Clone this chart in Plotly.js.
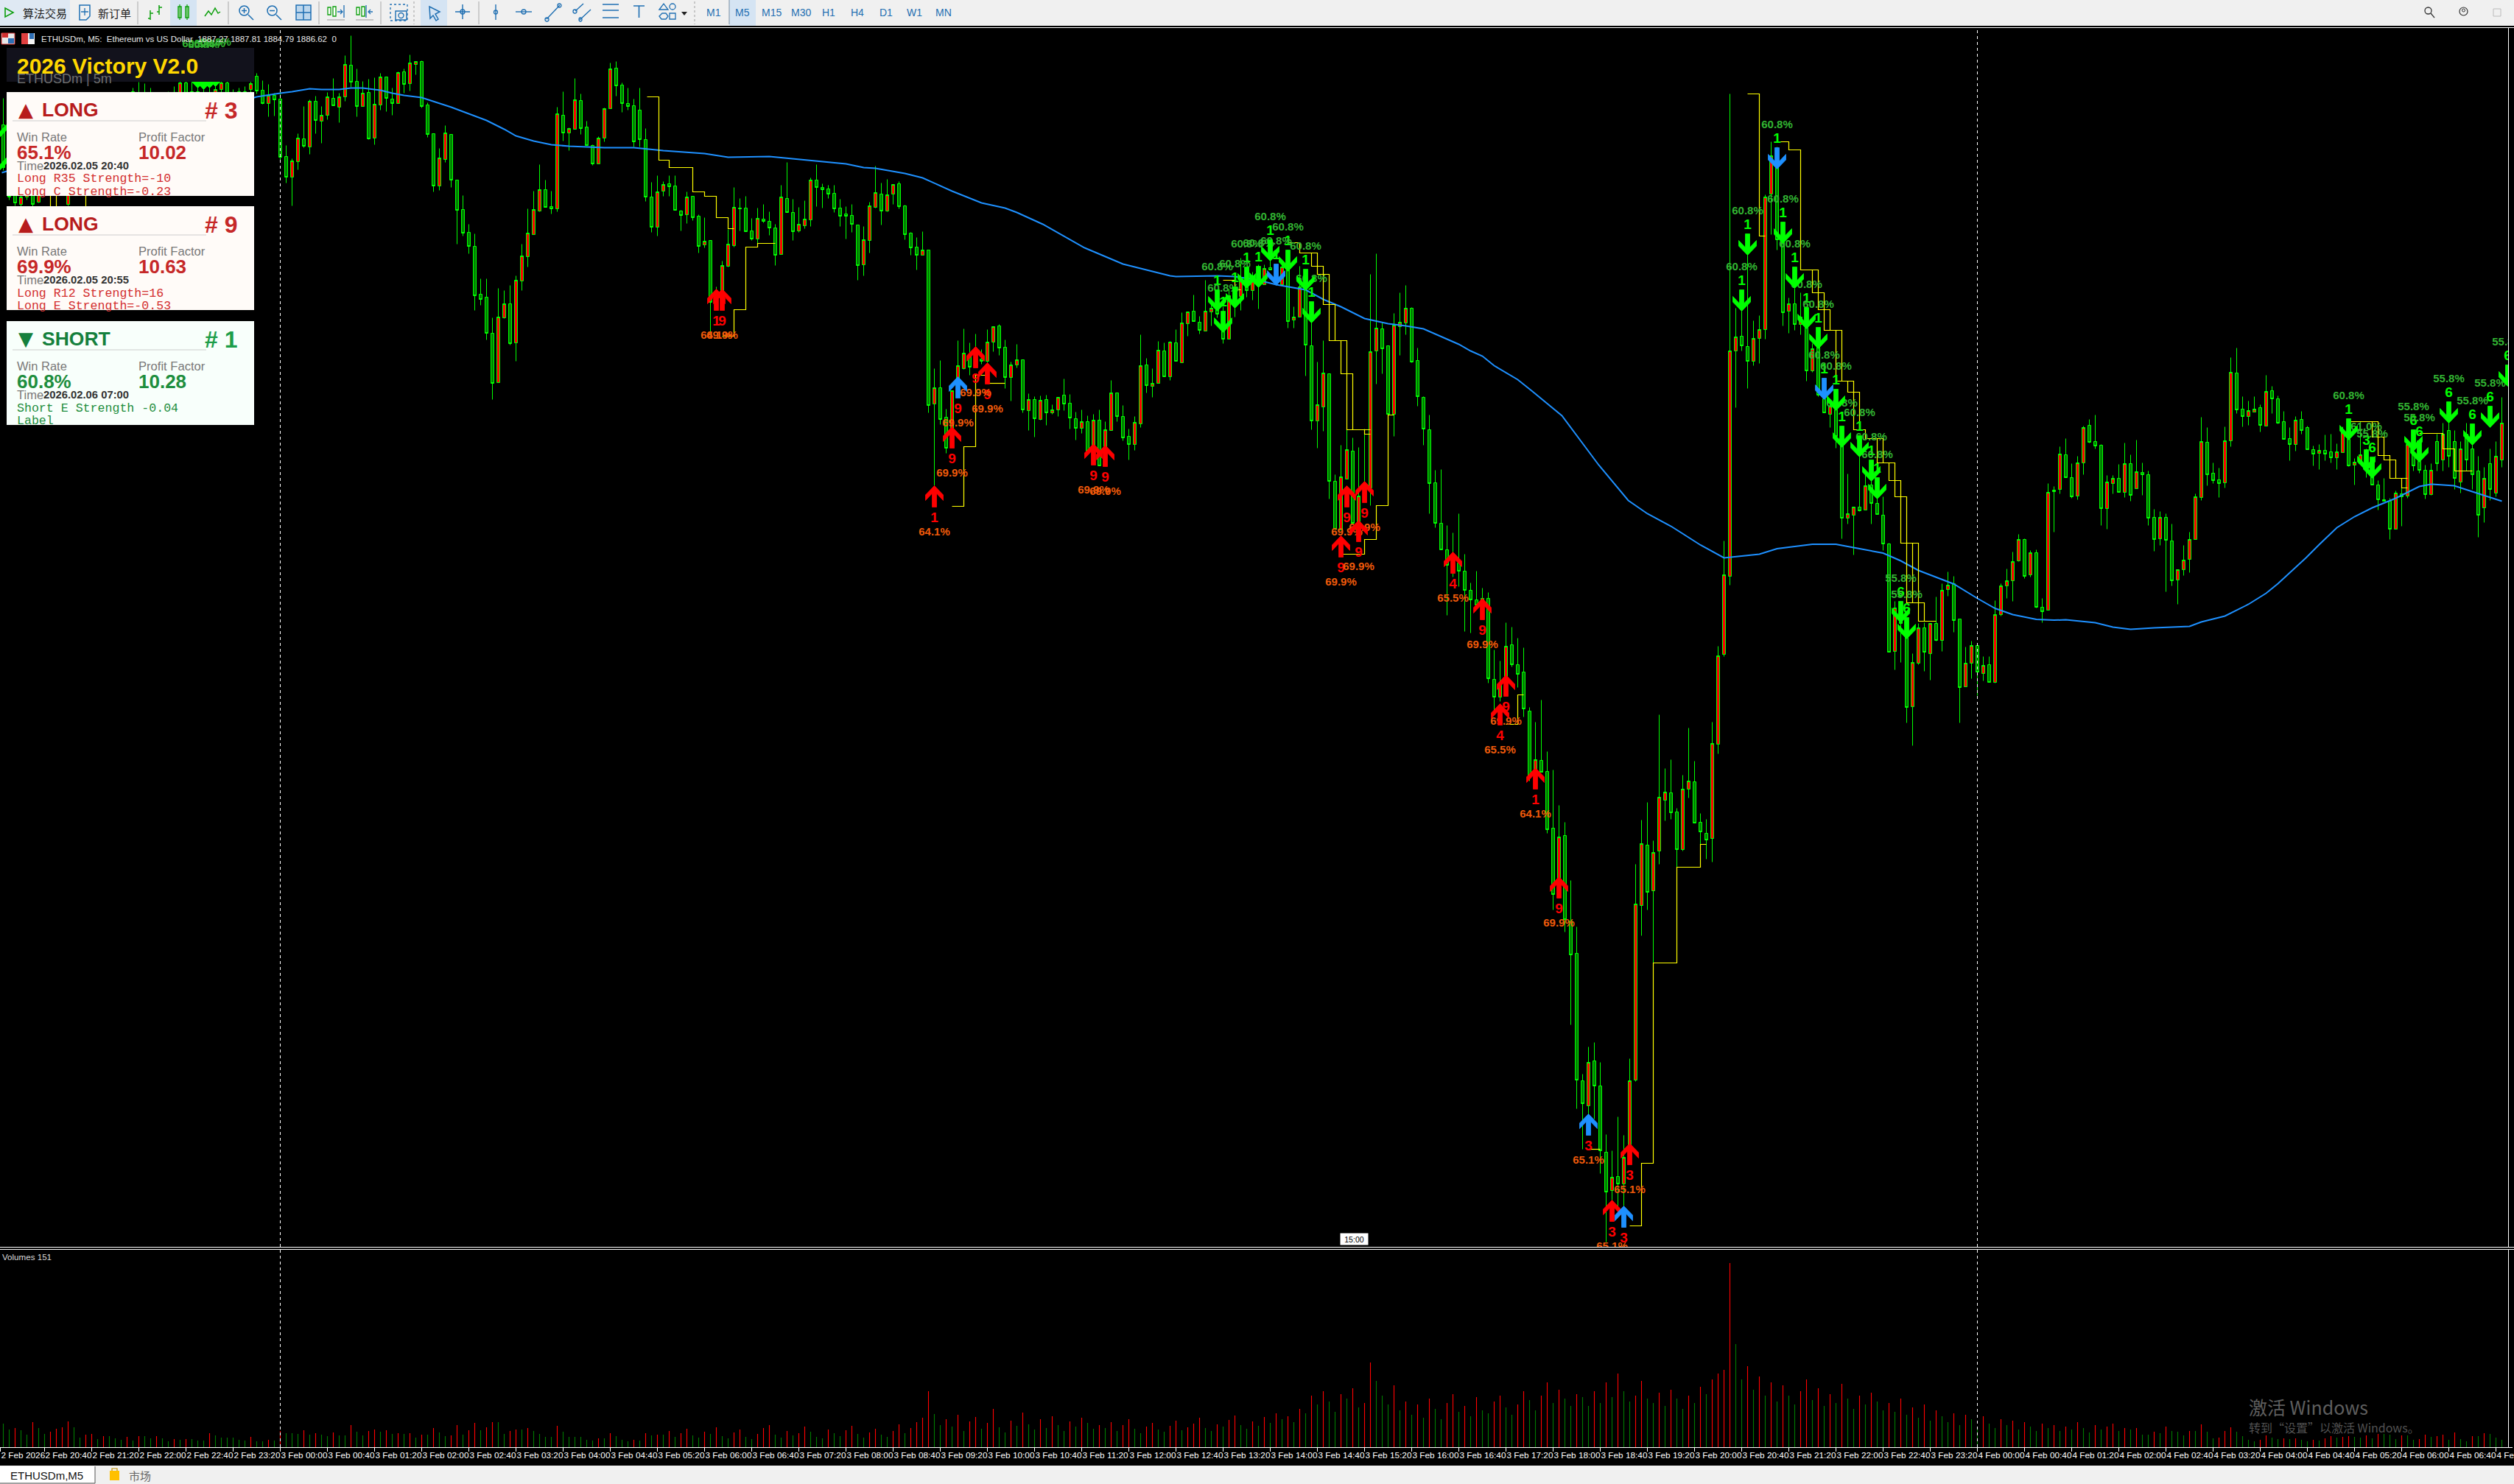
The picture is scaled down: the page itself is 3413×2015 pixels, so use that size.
<!DOCTYPE html>
<html><head><meta charset="utf-8">
<script src="https://cdn.plot.ly/plotly-3.0.1.min.js"></script>
<style>html,body{margin:0;padding:0;background:#000;overflow:hidden}#c{width:3413px;height:2015px}</style>
</head><body><div id="c"></div>
<script>
// Candles: [open, high, low, close]. The price scale is hidden in the source, so prices are in chart points.
const barsFeb2Evening=[[1830,1866,1768,1772],[1770,1778,1728,1732],[1760,1765,1720,1724],[1722,1745,1718,1732],[1732,1770,1728,1760],[1760,1768,1719,1722],[1725,1785,1724,1775],[1775,1785,1738,1745],[1742,1800,1725,1785],[1780,1815,1776,1805],[1805,1810,1750,1760],[1722,1800,1720,1785],[1785,1820,1780,1810],[1810,1820,1765,1770],[1770,1810,1765,1800],[1800,1840,1795,1830],[1830,1838,1790,1795],[1795,1805,1755,1760],[1760,1800,1752,1795],[1795,1835,1790,1825],[1825,1865,1820,1855],[1855,1870,1825,1830],[1830,1880,1825,1875],[1874,1888,1845,1850],[1850,1886,1840,1870],[1870,1880,1830,1835],[1835,1845,1805,1810],[1810,1860,1805,1850],[1850,1875,1845,1870],[1870,1882,1835,1840],[1840,1892,1836,1887],[1887,1895,1845,1850],[1850,1888,1845,1875],[1875,1885,1835,1840],[1840,1878,1836,1872],[1872,1880,1845,1850],[1850,1885,1846,1878],[1878,1890,1874,1887],[1887,1892,1865,1870],[1870,1878,1855,1860],[1860,1880,1856,1875],[1875,1882,1860,1865],[1878,1892,1870,1886],[1896,1900,1872,1876],[1877,1890,1858,1859],[1859,1885,1841,1870],[1870,1873,1842,1864]];
const barsFeb3Night=[[1865,1875,1780,1786],[1787,1802,1751,1759],[1759,1784,1720,1781],[1780,1818,1769,1812],[1811,1855,1799,1801],[1800,1864,1790,1862],[1862,1869,1818,1836],[1835,1855,1805,1843],[1843,1874,1837,1868],[1866,1893,1856,1856],[1854,1873,1833,1868],[1868,1924,1862,1912],[1911,1951,1881,1888],[1889,1906,1841,1855],[1855,1889,1855,1873],[1874,1892,1810,1811],[1812,1894,1803,1858],[1857,1900,1850,1895],[1895,1895,1848,1866],[1865,1880,1843,1859],[1859,1902,1859,1901],[1902,1906,1873,1885],[1886,1925,1876,1914],[1912,1916,1898,1916],[1916,1917,1853,1855],[1857,1860,1813,1817],[1818,1818,1739,1747],[1747,1798,1741,1785],[1783,1829,1779,1819],[1817,1817,1745,1755],[1755,1755,1668,1714],[1715,1734,1679,1683],[1684,1695,1655,1665],[1665,1682,1578,1598],[1600,1621,1585,1593],[1596,1621,1538,1547],[1547,1568,1457,1479],[1480,1608,1480,1569],[1568,1605,1567,1587],[1587,1612,1531,1533],[1534,1625,1509,1619],[1618,1668,1605,1652],[1651,1716,1637,1683],[1681,1740,1681,1715],[1713,1776,1712,1742],[1742,1755,1718,1718],[1719,1740,1709,1716],[1716,1854,1712,1845],[1843,1875,1808,1819],[1819,1826,1795,1825],[1824,1893,1824,1864],[1863,1872,1817,1825],[1827,1835,1802,1802],[1802,1803,1775,1777],[1777,1814,1777,1812],[1812,1853,1807,1852],[1852,1914,1852,1906],[1907,1916,1869,1883],[1884,1887,1847,1859],[1859,1880,1850,1855],[1856,1865,1800,1807],[1850,1880,1800,1810],[1810,1825,1726,1732]];
const barsFeb3Morning=[[1732,1752,1684,1691],[1691,1761,1679,1739],[1740,1753,1733,1749],[1750,1761,1733,1746],[1747,1761,1714,1714],[1713,1714,1686,1707],[1708,1739,1696,1732],[1733,1733,1700,1704],[1706,1708,1656,1665],[1667,1704,1663,1672],[1673,1673,1543,1589],[1600,1610,1580,1590],[1587,1645,1587,1639],[1638,1688,1637,1668],[1666,1745,1664,1718],[1717,1730,1686,1716],[1717,1733,1685,1685],[1686,1703,1673,1675],[1675,1717,1667,1703],[1702,1722,1697,1699],[1699,1712,1680,1690],[1690,1695,1639,1653],[1654,1748,1654,1732],[1730,1779,1711,1711],[1711,1729,1673,1685],[1686,1718,1684,1695],[1693,1727,1689,1702],[1701,1758,1692,1755],[1755,1776,1719,1745],[1745,1750,1717,1742],[1743,1748,1730,1736],[1737,1748,1711,1716],[1717,1729,1692,1706],[1709,1719,1675,1706],[1707,1722,1684,1695],[1694,1694,1619,1639],[1640,1692,1625,1674],[1673,1725,1656,1720],[1718,1774,1717,1738],[1736,1751,1694,1713],[1713,1756,1712,1735],[1736,1749,1722,1749],[1750,1753,1716,1719],[1720,1721,1674,1681],[1683,1684,1653,1663],[1664,1677,1633,1653],[1653,1685,1653,1660],[1660,1660,1439,1449],[1451,1499,1340,1473],[1473,1510,1423,1430],[1433,1444,1384,1391],[1417,1469,1417,1469],[1480,1537,1480,1503],[1499,1553,1498,1520],[1517,1534,1490,1501],[1510,1546,1507,1523],[1512,1525,1505,1509],[1509,1552,1507,1535],[1535,1556,1522,1556],[1557,1559,1517,1527],[1528,1538,1472,1487],[1487,1508,1455,1504],[1504,1532,1500,1511],[1511,1511,1439,1443]];
const barsFeb3Noon=[[1442,1465,1415,1457],[1457,1461,1406,1431],[1430,1462,1429,1456],[1457,1463,1422,1439],[1439,1450,1437,1443],[1443,1460,1434,1460],[1463,1485,1442,1451],[1452,1464,1417,1432],[1431,1440,1402,1418],[1418,1443,1411,1427],[1427,1435,1387,1387],[1393,1437,1373,1429],[1429,1443,1367,1367],[1387,1427,1380,1416],[1415,1483,1415,1466],[1466,1466,1427,1434],[1434,1449,1401,1405],[1407,1417,1375,1396],[1396,1434,1388,1426],[1424,1545,1419,1503],[1504,1513,1466,1476],[1475,1499,1460,1479],[1479,1536,1479,1524],[1523,1534,1488,1488],[1488,1536,1483,1535],[1534,1552,1509,1509],[1507,1575,1507,1561],[1560,1576,1543,1576],[1577,1599,1563,1563],[1562,1570,1546,1551],[1550,1619,1550,1577],[1576,1587,1557,1581],[1580,1601,1568,1573],[1550,1583,1533,1539],[1539,1607,1539,1598],[1600,1615,1569,1593],[1597,1649,1578,1620],[1623,1630,1596,1605],[1605,1630,1592,1625],[1630,1640,1580,1613],[1613,1640,1613,1635],[1636,1647,1633,1633],[1635,1640,1620,1623],[1613,1640,1613,1637],[1643,1660,1554,1563],[1565,1583,1554,1569],[1569,1638,1569,1610],[1607,1633,1489,1531],[1530,1573,1416,1428],[1428,1508,1391,1450],[1447,1537,1414,1493],[1492,1492,1322,1346],[1346,1355,1280,1281],[1280,1395,1280,1352],[1349,1416,1349,1389],[1387,1405,1289,1289],[1290,1392,1290,1326],[1342,1417,1323,1323],[1337,1627,1313,1522],[1523,1655,1478,1554],[1553,1561,1492,1526],[1530,1530,1437,1437],[1437,1574,1407,1558],[1556,1602,1517,1562],[1561,1612,1545,1581]];
const barsFeb3Slide=[[1581,1582,1507,1508],[1510,1527,1448,1461],[1460,1461,1395,1417],[1416,1436,1302,1343],[1344,1361,1283,1289],[1289,1362,1253,1253],[1253,1286,1164,1232],[1222,1276,1216,1242],[1235,1302,1203,1224],[1224,1247,1142,1198],[1198,1208,1140,1185],[1185,1224,1178,1178],[1180,1201,1170,1187],[1187,1195,1072,1078],[1077,1117,1032,1053],[1053,1102,1047,1070],[1066,1154,1066,1122],[1124,1148,1094,1097],[1097,1133,1066,1084],[1087,1120,1026,1037],[1034,1039,939,946],[936,1019,936,968],[967,1049,951,951],[952,979,868,873],[875,954,764,785],[806,906,806,863],[865,883,734,751],[749,804,608,703],[705,741,494,533],[532,541,439,501],[498,578,480,557],[559,584,480,525],[525,557,406,437],[435,459,313,381],[383,437,367,401],[402,483,360,392],[392,458,362,428],[437,562,437,532]];
const barsFeb3Rally=[[533,826,531,772],[770,886,729,854],[852,910,764,788],[790,858,692,842],[844,1029,826,917],[913,956,885,924],[923,968,887,896],[897,902,822,846],[846,947,844,928],[928,1011,916,939],[938,966,882,882],[883,895,853,870],[868,887,833,859],[861,1019,829,990],[989,1122,976,1109],[1111,1265,1108,1219],[1217,1872,1205,1523],[1523,1581,1446,1542],[1543,1590,1523,1530],[1529,1668,1472,1509],[1509,1564,1503,1540],[1540,1571,1506,1552],[1552,1735,1539,1732],[1736,1807,1681,1788],[1776,1800,1660,1674],[1680,1698,1557,1575],[1577,1595,1547,1587],[1587,1608,1551,1559],[1559,1602,1545,1569],[1566,1578,1482,1496],[1496,1533,1494,1526],[1530,1536,1461,1463],[1458,1485,1439,1439],[1437,1458,1419,1448],[1443,1458,1391,1407],[1404,1416,1268,1296],[1296,1356,1288,1302],[1300,1311,1246,1311],[1311,1386,1305,1306],[1307,1362,1307,1340],[1341,1362,1288,1316],[1316,1323,1301,1301],[1300,1325,1252,1261],[1261,1262,1114,1114],[1115,1183,1090,1174],[1168,1183,1100,1153],[1144,1153,1018,1039],[1040,1112,987,1100],[1099,1153,1097,1147],[1147,1154,1088,1114],[1112,1153,1076,1153],[1153,1189,1129,1130],[1130,1207,1115,1198],[1199,1223,1190,1205],[1207,1217,1141,1157],[1159,1159,1018,1066],[1067,1121,1067,1099],[1099,1129,1078,1123]];
const barsFeb4Night=[[1123,1123,1055,1087],[1085,1108,1075,1096],[1097,1108,1073,1073],[1073,1184,1072,1165],[1165,1207,1163,1204],[1204,1227,1187,1211],[1211,1250,1183,1237],[1238,1274,1237,1267],[1267,1268,1214,1217],[1219,1252,1216,1249],[1249,1253,1174,1175],[1175,1187,1154,1169],[1171,1343,1171,1331],[1332,1339,1277,1334],[1335,1393,1329,1383],[1382,1404,1351,1351],[1351,1370,1323,1325],[1326,1380,1321,1371],[1371,1421,1355,1419],[1422,1430,1398,1399],[1400,1436,1390,1394],[1395,1396,1286,1309],[1309,1354,1281,1345],[1343,1354,1329,1350],[1350,1369,1331,1331],[1331,1398,1324,1370],[1370,1382,1319,1327],[1336,1402,1336,1359],[1358,1371,1327,1355],[1355,1360,1286,1296],[1297,1308,1251,1267],[1268,1305,1259,1297],[1297,1302,1196,1266],[1265,1288,1204,1211],[1212,1226,1179,1226],[1226,1259,1218,1239],[1240,1277,1222,1267],[1267,1329,1267,1325],[1324,1433,1320,1400],[1399,1419,1340,1355],[1357,1371,1343,1347],[1348,1364,1324,1343],[1344,1420,1337,1401],[1401,1514,1393,1494],[1493,1527,1438,1443]];
const barsFeb4Morning=[[1444,1461,1420,1434],[1434,1455,1422,1442],[1440,1461,1440,1444],[1446,1450,1413,1422],[1421,1490,1421,1468],[1469,1475,1438,1458],[1458,1462,1424,1425],[1427,1441,1403,1403],[1404,1419,1374,1396],[1396,1434,1387,1429],[1430,1441,1410,1415],[1419,1421,1389,1389],[1389,1394,1367,1383],[1384,1396,1362,1388],[1388,1409,1374,1383],[1386,1410,1371,1378],[1378,1397,1362,1386],[1385,1420,1385,1413],[1403,1427,1366,1367],[1368,1377,1341,1372],[1370,1427,1370,1382],[1375,1390,1351,1363],[1353,1368,1341,1341],[1341,1347,1307,1321],[1321,1350,1319,1319],[1319,1323,1267,1281],[1281,1333,1281,1330],[1329,1350,1285,1325],[1326,1397,1323,1396],[1383,1395,1360,1367],[1373,1390,1357,1361],[1361,1368,1322,1328],[1328,1370,1327,1361],[1400,1410,1360,1370],[1375,1425,1360,1410],[1415,1440,1365,1380],[1400,1415,1335,1350],[1345,1400,1330,1390],[1410,1425,1360,1375],[1390,1410,1335,1355],[1360,1380,1270,1300],[1310,1365,1290,1350],[1370,1390,1320,1335],[1330,1400,1325,1380],[1375,1460,1365,1425]];

// Tick volume per bar
const volFeb2=[320,240,260,230,170,340,260,180,210,250,270,350,270,130,170,180,110,150,150,120,100,140,90,150,150,120,150,120,80,110,100,110,110,90,90,190,160,130,130,130,100,90,140,80,80,100,90];
const volFeb3A=[220,190,190,180,230,170,190,170,150,200,160,160,300,210,160,220,240,210,230,180,190,180,190,130,170,170,260,200,150,160,300,170,230,330,230,270,340,340,180,220,240,240,260,220,180,140,140,290,210,140,140,140,100,90,120,120,190,150,100,80,100,90,190,160,170];
const volFeb3B=[170,220,140,190,250,160,130,210,180,270,150,120,200,240,140,110,180,260,300,170,130,220,160,190,280,210,140,120,240,190,150,230,290,180,130,200,250,170,140,220,310,190,260,340,400,760,450,300,380,280,440,220,350,410,250,330,520,270,200,360,290,470,310,240,380,260,420,300,220,350,280,400,330,250,300];
const volFeb3C=[260,340,220,300,380,250,190,280,330,240,210,290,360,230,270,320,400,260,220,310,280,370,430,300,250,350,290,410,330,460,380,420,340,520,460,700,580,760,620,480,720,660,800,540,600,1150,900,700,580,840];
const volFeb3D=[500,620,440,580,400,660,520,380,600,720,480,560,420,680,500,460,620,700,540,440,580,760,640,500,700,880,600,780,660,560,720,680,560,760,600,880,680,1000,760,620,700,900,660,600,740,560,780,660,520,700,600,820,720,920,1000,1050,2500];
const volFeb4A=[1400,920,1100,780,960,700,880,620,840,700,580,760,920,640,800,560,720,600,860,660,520,700,580,740,620,500,600,480,660,440,540,400,580,360,500,420,340,460,300,440,380,280,420,320,260,380,300,360,240,340,280,220,320,260,300,220,280,240,340,260,200,300,240,280,320,220,260,240];
const volFeb4B=[260,170,170,210,190,280,220,210,160,220,220,310,210,120,130,220,270,210,150,100,80,100,160,130,110,120,110,120,100,80,100,90,120,150,130,140,150,140,130,160,120,180,180,170,110,160,160,100,110,170,140,150,170,100,200,110,80,150,150,190,180,130,100];

// Moving-average line, read at its turning points
const emaBar=[-0.25,43,47,49,52,54,57,59,61,64,66,68,71,74,76,79,82,85,87,90,93,96,100,102,107,112,119,123,130,137,143,146,148,153,156,161,166,170,172,176.4,183.5,190,194.5,198,199,206,209,213,216,220,221,224,227,231,235,238,241,245,247,249,251,253,257,259.5,264.5,270.75,275.75,279,283,288,292,298,301,307,311,314,319,322,325,331,335,338,341,345,348,350,355,358,361,365,371,373,377,381,384,386,388,390.75,393,396,399,402,406,410,412,415.9,424];
const emaPrice=[1765,1868,1873,1875,1879,1878,1878,1880,1880,1877,1873,1870,1867,1859,1854,1845,1836,1824,1815,1808,1803,1801,1800,1799,1799,1795,1791,1786,1787,1782,1777,1772,1771,1764,1758,1740,1724,1717,1711,1695,1663,1641,1632,1625,1624,1625,1624,1619,1613,1608,1606,1593,1583,1567,1560,1557,1553,1539,1532,1523,1516,1503,1484,1468,1435,1368,1320,1302,1285,1259.5,1242,1247,1254.5,1260.5,1260.5,1256,1248.5,1238,1225,1206.5,1187,1173.5,1165,1158.5,1157.4,1158,1154,1148,1145,1147,1149,1155,1163,1179,1194,1207,1222,1242,1260,1283,1298,1310,1323,1339,1342,1340,1319];

// Yellow stepped trade lines, null separates the runs
const stepBar=[109.25,111.25,111.25,113,113,117,117,119,119,121,121,123,123,124,null,122,124,124,126,126,128,128,131,null,161,163,163,165,165,167,null,167,170,null,207,209,209,210,null,218,220,220,222,222,224,224,226,226,228,228,232,null,220,223,223,225,225,227,227,229,229,231,231,232,null,227,231,231,233,233,235,235,236,null,255,257,257,258,null,269,271,null,276,278,278,280,280,284,284,288,288,289,null,296,298,298,299,null,301,303,303,305,305,307,307,309,309,311,311,313,313,315,315,316,null,307,308,308,310,310,312,312,314,314,316,316,319,319,320,320,322,322,325,325,328,null,318,318,321,321,323,323,326,326,null,324,324,null,398,403,403,405,405,408,null,402,402,404,404,406,406,null,407,407,408,null,410,414,414,416,416,419,null,8,8,null,9,9,null,14,14];
const stepPrice=[1868,1868,1782,1782,1772,1772,1739,1739,1733,1733,1704,1704,1689,1689,null,1543,1543,1579,1579,1664,1664,1669,1669,null,1312,1312,1393,1393,1490,1490,null,1479,1479,null,1619,1619,1606,1606,null,1670,1670,1656,1656,1638,1638,1586,1586,1537,1537,1416,1416,null,1656,1656,1627,1627,1537,1537,1492,1492,1416,1416,1410,1410,null,1247,1247,1267,1267,1313,1313,1436,1436,null,1016,1016,1056,1056,null,439,439,null,335,335,420,420,692,692,822,822,853,853,null,1872,1872,1679,1679,null,1807,1807,1796,1796,1633,1633,1602,1602,1551,1551,1482,1482,1467,1467,1416,1416,null,1633,1633,1579,1579,1551,1551,1482,1482,1416,1416,1404,1404,1371,1371,1347,1347,1262,1262,1156,1156,null,1404,1371,1371,1325,1325,1181,1181,1156,null,1262,1181,null,1427,1427,1381,1381,1350,1350,null,1427,1406,1406,1375,1375,1350,null,1350,1337,1337,null,1411,1411,1390,1390,1360,1360,null,1760,1710,null,1760,1710,null,1760,1710];

// Signal arrows
const upBar=[121,122,158,161,162,165,167,185,187,227,228,230,231,246,251,255,254,260,264,269,273,275,276];
const upTip=[1607,1607,1340,1420,1488,1529,1507,1397,1395,1272,1340,1293,1346,1250,1187,1083,1044,957,809,487,370,362,447];
const upColor=['r','r','r','r','b','r','r','r','r','r','r','r','r','r','r','r','r','r','r','b','r','b','r'];
const upCount=['1','9','1','9','9','9','9','9','9','9','9','9','9','4','9','9','4','1','9','3','3','3','3'];
const upRate=['64.1%','69.9%','64.1%','69.9%','69.9%','69.9%','69.9%','69.9%','69.9%','69.9%','69.9%','69.9%','69.9%','65.5%','69.9%','69.9%','65.5%','64.1%','69.9%','65.1%','65.1%','65.1%','65.1%'];
const downBar=[-1,-1,33,34,35,36,206,207,209,211,213,215,216,218,221,222,295,296,301,302,304,306,308,309,311,312,315,317,318,322,323,398,401,402,409,410,415,419,422,425];
const downTip=[1810,1765,1880,1878,1880,1882,1577,1548,1581,1608,1609,1645,1612,1631,1605,1561,1577,1653,1770,1669,1608,1553,1526,1457,1442,1392,1379,1346,1322,1154,1132,1402,1360,1350,1387,1372,1425,1395,1419,1475];
const downColor=['g','g','g','g','g','g','g','g','g','g','g','g','b','g','g','g','g','g','b','g','g','g','g','b','g','g','g','g','g','g','g','g','g','g','g','g','g','g','g','g'];
const downCount=['','','1','1','1','1','1','1','1','1','1','1','1','1','1','1','1','1','1','1','1','1','1','1','1','1','1','1','1','6','6','1','3','6','6','6','6','6','6','6'];
const downRate=['','','60.8%','60.8%','60.8%','60.8%','60.8%','60.8%','60.8%','60.8%','60.8%','60.8%','60.8%','60.8%','60.8%','60.8%','60.8%','60.8%','60.8%','60.8%','60.8%','60.8%','60.8%','60.8%','60.8%','60.8%','60.8%','60.8%','60.8%','55.8%','55.8%','60.8%','61.0%','55.8%','55.8%','55.8%','55.8%','55.8%','55.8%','55.8%'];

// Day separators (bar index) and time axis
const daySeparators=[47,335];
const timeframes=['M1','M5','M15','M30','H1','H4','D1','W1','MN'];
const timeframeX=[969,1008,1047,1087,1125,1164,1203,1241,1281];

// Signal cards
const cardTop=[125,280,436];
const cardSide=['LONG','LONG','SHORT'];
const cardGlyph=['▲','▲','▼'];
const cardCount=['# 3','# 9','# 1'];
const cardWin=['65.1%','69.9%','60.8%'];
const cardFactor=['10.02','10.63','10.28'];
const cardTime=['2026.02.05 20:40','2026.02.05 20:55','2026.02.06 07:00'];
const cardLine1=['Long R35 Strength=-10','Long R12 Strength=16','Short E Strength -0.04'];
const cardLine2=['Long C Strength=-0.23','Long E Strength=-0.53','Label'];
const cardBg=['#FFFBF8','#FFFBF8','#F8FFFB'];
const cardAccent=['#B71C1C','#B71C1C','#15803D'];
const cardValue=['#C62828','#C62828','#1E8E3E'];
const cardMono=['#D32F2F','#D32F2F','#1E8E3E'];

const W=3413,H=2015;
const ohlc=[].concat(barsFeb2Evening,barsFeb3Night,barsFeb3Morning,barsFeb3Noon,barsFeb3Slide,barsFeb3Rally,barsFeb4Night,barsFeb4Morning);
const open=ohlc.map(r=>r[0]),high=ohlc.map(r=>r[1]),low=ohlc.map(r=>r[2]),close=ohlc.map(r=>r[3]);
const volume=[].concat(volFeb2,volFeb3A,volFeb3B,volFeb3C,volFeb3D,volFeb4A,volFeb4B);
const barIdx=ohlc.map((_,i)=>i);
const volIdx=volume.map((_,i)=>i);
const volColor=volume.map((v,i)=>(i>0&&v>volume[i-1])?'#FF0000':'#007A00');

// tick labels every 40 minutes
const MON=['Jan','Feb'];
const pad=n=>String(n).padStart(2,'0');
const tickVals=[-0.5],tickText=['2 Feb 2026'];
for(let i=7;i<=423;i+=8){
  const d=new Date(Date.UTC(2026,1,2,20,5)+i*300000);
  tickVals.push(i);
  tickText.push(d.getUTCDate()+' '+MON[d.getUTCMonth()]+' '+pad(d.getUTCHours())+':'+pad(d.getUTCMinutes()));
}

const px=x=>x/W, py=y=>1-y/H;
const shapes=[];
const conv=d=>d.replace(/(-?[\d.]+) (-?[\d.]+)/g,(m,a,b)=>px(+a)+','+py(+b));
const Rect=(x0,y0,x1,y1,fill,line,lw)=>shapes.push({type:'rect',xref:'paper',yref:'paper',x0:px(x0),x1:px(x1),y0:py(y0),y1:py(y1),fillcolor:fill||'rgba(0,0,0,0)',line:{color:line||fill||'rgba(0,0,0,0)',width:line?(lw||1):0},layer:'above'});
const Path=(d,stroke,lw,fill)=>shapes.push({type:'path',xref:'paper',yref:'paper',path:conv(d),line:{color:stroke||'rgba(0,0,0,0)',width:stroke?(lw||1.5):0},fillcolor:fill||'rgba(0,0,0,0)',layer:'above'});
const Circ=(x0,y0,x1,y1,stroke,lw)=>shapes.push({type:'circle',xref:'paper',yref:'paper',x0:px(x0),x1:px(x1),y0:py(y0),y1:py(y1),line:{color:stroke,width:lw||1.5},layer:'above'});

// day separators
daySeparators.forEach(b=>shapes.push({type:'line',xref:'x',yref:'paper',x0:b,x1:b,y0:py(1965),y1:py(38),line:{color:'#FFFFFF',width:1,dash:'4px,4px'},layer:'above'}));

// arrows
const upPath='M0,0 L12,-12.5 L12,-20 L3,-10.5 L3,-29 L-3,-29 L-3,-10.5 L-12,-20 L-12,-12.5 Z';
const downPath='M0,0 L12,12.5 L12,20 L3,10.5 L3,29 L-3,29 L-3,10.5 L-12,20 L-12,12.5 Z';
const arrowCol={r:'#FF0000',b:'#1E90FF',g:'#00FF00'};
const arrow=(b,p,path,c)=>shapes.push({type:'path',xref:'x',yref:'y',xsizemode:'pixel',ysizemode:'pixel',xanchor:b,yanchor:p,path:path,fillcolor:arrowCol[c],line:{width:0.8,color:arrowCol[c]},layer:'above'});
upBar.forEach((b,i)=>arrow(b,upTip[i],upPath,upColor[i]));
downBar.forEach((b,i)=>arrow(b,downTip[i],downPath,downColor[i]));

// separators between panes, top line
Path('M0 1693.5 L3413 1693.5','#FFFFFF',1);
Path('M0 1696.5 L3413 1696.5','#FFFFFF',1);
Path('M0 37.5 L3413 37.5','#FFFFFF',1);

const ann=[];
const T=(text,x,y,size,color,opt)=>ann.push(Object.assign({text:text,xref:'paper',yref:'paper',x:px(x),y:py(y),xanchor:'left',yanchor:'middle',showarrow:false,borderpad:0,font:{family:'Liberation Sans',size:size,color:color}},opt||{}));

// header strip
Rect(9,65,345,111,'#12121C');
T('<b>2026 Victory V2.0</b>',22,90,30,'#FFD700');
T('ETHUSDm | 5m',22,107,18,'#6E6E6E');

// signal cards
cardTop.forEach((t,i)=>{
  Rect(9,t,345,t+141,cardBg[i]);
  Path('M17 '+(t+39)+' L280 '+(t+39),'#CCCCCC',1);
  T(cardGlyph[i],24,t+24,26,cardAccent[i],{font:{family:'DejaVu Sans',size:26,color:cardAccent[i]}});
  T('<b>'+cardSide[i]+'</b>',56,t+24,26.5,cardAccent[i]);
  T('<b>'+cardCount[i]+'</b>',277,t+25,32,cardAccent[i]==='#B71C1C'?'#C62828':'#1E9E4A');
  T('Win Rate',22,t+61,16.5,'#787878');
  T('Profit Factor',187,t+61,16.6,'#787878');
  T('<b>'+cardWin[i]+'</b>',22,t+82,26,cardValue[i]);
  T('<b>'+cardFactor[i]+'</b>',187,t+82,26,cardValue[i]);
  T('Time',22,t+100,16.5,'#787878');
  T('<b>'+cardTime[i]+'</b>',58,t+100,14.8,'#333333');
  T(cardLine1[i],22,t+118,16.6,cardMono[i],{font:{family:'Liberation Mono',size:16.6,color:cardMono[i]}});
  T(cardLine2[i],22,t+135,16.6,cardMono[i],{font:{family:'Liberation Mono',size:16.6,color:cardMono[i]}});
});

// chart caption
Rect(2,45,20,60,'#E8E8E8','#D03030',1);Rect(3,45,11,51,'#D03030');Rect(11,52,19,59,'#2E6FB5');
Rect(29,45,38,60,'#E04040');Rect(38,45,47,60,'#F4F4F4');Rect(40,45,46,53,'#2E6FB5');
T('ETHUSDm, M5:  Ethereum vs US Dollar  1887.27 1887.81 1884.79 1886.62  0',55,53,11.5,'#E8E8E8');
T('Volumes 151',2,1706,11.6,'#DDDDDD');
ann.push({text:'15:00',xref:'paper',yref:'paper',x:px(1838),y:py(1682),xanchor:'center',yanchor:'middle',showarrow:false,bgcolor:'#FFFFFF',borderpad:1,width:35,height:13,font:{family:'Liberation Sans',size:10.5,color:'#000000'}});

// watermark
T('激活 Windows',3052,1910,25,'#5E5E5E',{font:{family:'Noto Sans CJK SC',size:25,color:'#5E5E5E'}});
T('转到“设置”以激活 Windows。',3052,1938,16,'#525252',{font:{family:'Noto Sans CJK SC',size:16,color:'#525252'}});

// toolbar
const blue='#1F6FB2',grn='#0B9E0B';
Rect(0,0,3413,35,'#F0F0F0');
Rect(0,0,95,35,'#DFE9F3');Rect(231,0,267,35,'#D5E4F3');Rect(571,0,607,35,'#D5E4F3');Rect(990,0,1026,35,'#D5E4F3');
Path('M990 0 L990 33','#7A8FA3',1);
[187,310,433,517,650].forEach(x=>Path('M'+x+' 2 L'+x+' 33','#A8A8A8',1));
[562,943].forEach(x=>shapes.push({type:'line',xref:'paper',yref:'paper',x0:px(x),x1:px(x),y0:py(2),y1:py(33),line:{color:'#A0A0A0',width:1,dash:'dot'},layer:'above'}));
Path('M7 11 L18 17 L7 23 Z',grn,1.6);
T('算法交易',30,17,15,'#222222',{font:{family:'Noto Sans CJK SC',size:15,color:'#222222'}});
Path('M108 7 L122 7 L122 22 L117 27 L108 27 Z',blue,1.5);Path('M115 11 L115 21 M110 16 L120 16',blue,1.3);
T('新订单',132,17,15,'#222222',{font:{family:'Noto Sans CJK SC',size:15,color:'#222222'}});
Path('M204 14 L204 27 M201 25 L204 25 M204 18 L208 18 M216 7 L216 20 M213 16 L216 16 M216 10 L220 10',grn,1.5);
Rect(242,9,246,24,'#FFFFFF',grn,1.5);Rect(252,9,256,24,'#FFFFFF',grn,1.5);Path('M244 6 L244 27 M254 6 L254 27',grn,1.2);
Path('M278 22 L283 15 L287 20 L292 11 L296 18 L299 16',grn,1.5);
Circ(325,8,338,21,blue);Path('M337 20 L344 27 M328 14.5 L335 14.5 M331.5 11 L331.5 18',blue,1.5);
Circ(363,8,376,21,blue);Path('M375 20 L382 27 M366 14.5 L373 14.5',blue,1.5);
Rect(402,7,422,27,'#BCD6EC',blue,1.5);Path('M412 7 L412 27 M402 17 L422 17',blue,1.5);
Rect(445,10,449,20,'#FFFFFF',grn,1.3);Rect(452,9,456,22,'#FFFFFF',grn,1.3);Path('M444 27 L468 27','#999999',1);Path('M458 16 L465 16 M462 13 L465 16 L462 19 M467 7 L467 24',blue,1.3);
Rect(484,10,488,20,'#FFFFFF',grn,1.3);Rect(491,9,495,22,'#FFFFFF',grn,1.3);Path('M483 27 L507 27','#999999',1);Path('M506 16 L500 16 M503 13 L500 16 L503 19 M497 7 L497 24',blue,1.3);
shapes.push({type:'rect',xref:'paper',yref:'paper',x0:px(530),x1:px(553),y0:py(28),y1:py(6),line:{color:blue,width:1.3,dash:'dot'},layer:'above'});
Rect(537,15,552,27,'#F0F0F0',blue,1.4);Circ(541,17.5,548,24.5,blue,1.3);
Path('M583 9 L597 16 L591 19 L595 26 L592 28 L588 21 L584 25 Z',blue,1.5);
Path('M618 16 L638 16 M628 6 L628 26',blue,1.4);Circ(625,13,631,19,blue,1.3);
Path('M673 6 L673 27',blue,1.4);Circ(670.5,14,675.5,19,blue,1.3);
Path('M700 16 L722 16',blue,1.4);Circ(708,13,714,19,blue,1.3);
Path('M742 26 L760 7',blue,1.4);Circ(740,24,745,29,blue,1.3);Circ(757,5,762,10,blue,1.3);
Path('M781 15 L792 5 M787 27 L802 13',blue,1.4);Circ(778,13,783,18,blue,1.3);Circ(786,24,790,29,blue,1.3);
Path('M818 6 L840 6 M818 14 L840 14 M818 24 L840 24',blue,1.4);
Path('M860 8 L875 8 M867.5 8 L867.5 24',blue,1.6);
Path('M895 13 L901 5 L907 13 Z',blue,1.3);Circ(909,5,917,13,blue,1.3);Rect(909,18,917,26,'#F0F0F0',blue,1.3);Path('M895 22 L899 18 L904 18 L907 22 L904 26 L898 26 Z',blue,1.3);
Path('M925 16 L933 16 L929 21 Z',null,0,'#222222');
timeframes.forEach((t,i)=>T(t,timeframeX[i],17,14,blue,{xanchor:'center'}));
Circ(3292,10,3301,19,'#333333',1.3);Path('M3300 18 L3305 24','#333333',1.3);
Circ(3339,10,3350,21,'#333333',1.2);Circ(3342.5,12,3346.5,16,'#333333',1);
Rect(3385,12,3395,22,'#F0F0F0','#BBBBBB',1);

// status bar
Rect(0,1990,3413,2015,'#F0F0F0');
Rect(0,1991,129,2013,'#FFFFFF');
Path('M129 1991 L129 2014 L0 2014','#555555',1);
T('ETHUSDm,M5',13,2003,15,'#111111');
Rect(149,1997,162,2010,'#FFC000');Path('M152 1997 L152 1994 L159 1994 L159 1997','#C09000',1.2);
T('市场',174,2003,15,'#666666',{font:{family:'Noto Sans CJK SC',size:15,color:'#666666'}});

const pctUp='#F05A0A',pctDown='#32B432';
const data=[
 {type:'candlestick',x:barIdx,open:open,high:high,low:low,close:close,xaxis:'x',yaxis:'y',whiskerwidth:0,
  increasing:{line:{color:'#00FF00',width:1},fillcolor:'#FF0000'},decreasing:{line:{color:'#00FF00',width:1},fillcolor:'#008000'},showlegend:false,hoverinfo:'skip'},
 {type:'scatter',mode:'lines',x:emaBar,y:emaPrice,line:{color:'#1E90FF',width:2},xaxis:'x',yaxis:'y',showlegend:false,hoverinfo:'skip'},
 {type:'scatter',mode:'lines',x:stepBar,y:stepPrice,line:{color:'#FFFF00',width:1.2},connectgaps:false,xaxis:'x',yaxis:'y',showlegend:false,hoverinfo:'skip'},
 {type:'scatter',mode:'text',x:upBar,y:upTip.map(p=>p-45),text:upCount,textposition:'middle center',textfont:{family:'Liberation Sans',size:19,color:'#FF0000',weight:'bold'},xaxis:'x',yaxis:'y',showlegend:false,hoverinfo:'skip'},
 {type:'scatter',mode:'text',x:upBar,y:upTip.map(p=>p-64),text:upRate,textposition:'middle center',textfont:{family:'Liberation Sans',size:15,color:pctUp,weight:'bold'},xaxis:'x',yaxis:'y',showlegend:false,hoverinfo:'skip'},
 {type:'scatter',mode:'text',x:downBar,y:downTip.map(p=>p+40),text:downCount,textposition:'middle center',textfont:{family:'Liberation Sans',size:19,color:'#00FF00',weight:'bold'},xaxis:'x',yaxis:'y',showlegend:false,hoverinfo:'skip'},
 {type:'scatter',mode:'text',x:downBar,y:downTip.map(p=>p+59),text:downRate,textposition:'middle center',textfont:{family:'Liberation Sans',size:15,color:pctDown,weight:'bold'},xaxis:'x',yaxis:'y',showlegend:false,hoverinfo:'skip'},
 {type:'bar',x:volIdx,y:volume,width:0.14,marker:{color:volColor,line:{width:0}},xaxis:'x',yaxis:'y2',showlegend:false,hoverinfo:'skip'}
];
const layout={
 width:W,height:H,margin:{l:0,r:0,t:0,b:0,pad:0},paper_bgcolor:'#000000',plot_bgcolor:'#000000',showlegend:false,boxgap:0.5,boxgroupgap:0,hovermode:false,
 xaxis:{domain:[0,3405/W],range:[-0.5625,425.0625],anchor:'y2',tickmode:'array',tickvals:tickVals,ticktext:tickText,tickangle:0,ticks:'outside',ticklen:5,tickcolor:'#FFFFFF',tickwidth:1,
  ticklabelposition:'outside right',ticklabeloverflow:'allow',tickfont:{family:'Liberation Sans',size:11.8,color:'#FFFFFF'},showgrid:false,zeroline:false,showline:true,linecolor:'#FFFFFF',linewidth:1,rangeslider:{visible:false},automargin:false},
 yaxis:{domain:[(H-1693)/H,(H-38)/H],range:[306.5,1961.5],anchor:'x',side:'right',showgrid:false,zeroline:false,showticklabels:false,ticks:'',showline:true,linecolor:'#FFFFFF',linewidth:1},
 yaxis2:{domain:[(H-1965)/H,(H-1697)/H],range:[0,2680],anchor:'x',side:'right',showgrid:false,zeroline:false,tickmode:'array',tickvals:[0],ticktext:['0'],ticks:'outside',ticklen:5,tickcolor:'#FFFFFF',ticklabeloverflow:'allow',tickfont:{family:'Liberation Sans',size:11.8,color:'#FFFFFF'},showline:true,linecolor:'#FFFFFF',linewidth:1},
 shapes:shapes,annotations:ann
};
Plotly.newPlot('c',data,layout,{displayModeBar:false,staticPlot:true});
</script></body></html>
